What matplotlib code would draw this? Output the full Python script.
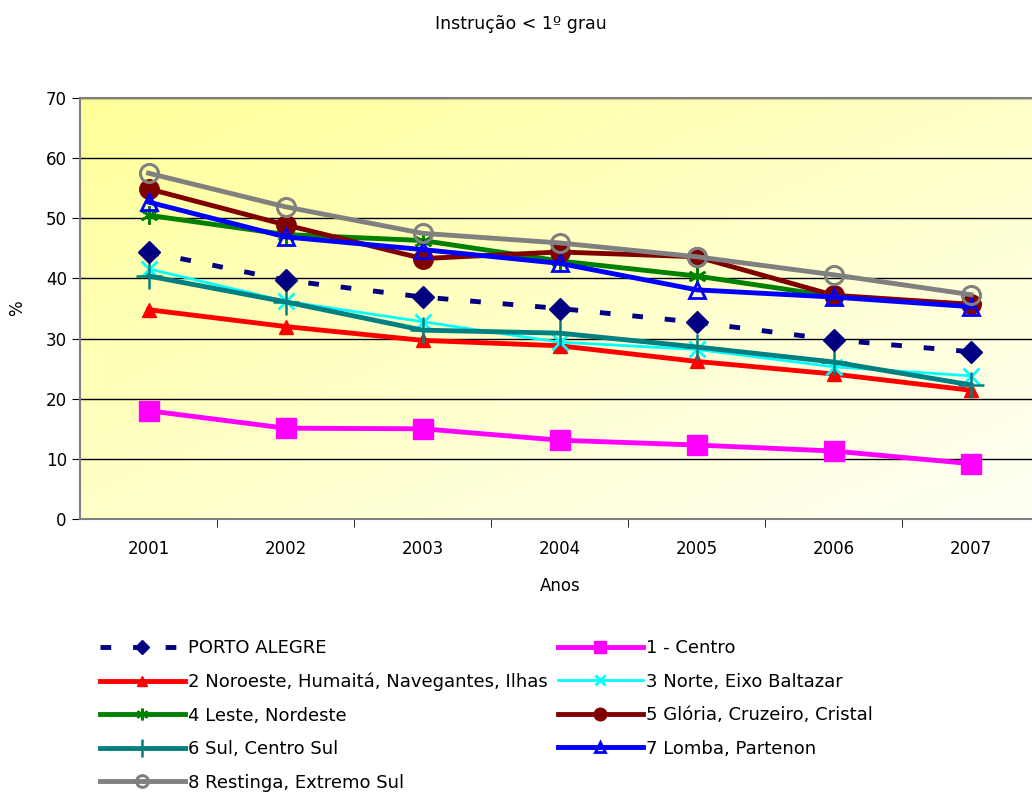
import numpy as np
import matplotlib
matplotlib.use('Agg')
import matplotlib.pyplot as plt
from matplotlib.colors import LinearSegmentedColormap

anos = ['2001', '2002', '2003', '2004', '2005', '2006', '2007']

porto_alegre = [44.4, 39.7, 36.9, 35.0, 32.7, 29.8, 27.8]
centro = [18.0, 15.1, 15.0, 13.1, 12.3, 11.3, 9.2]
noroeste = [34.8, 32.0, 29.7, 28.8, 26.2, 24.1, 21.4]
norte = [41.6, 36.2, 32.8, 29.4, 28.2, 25.3, 23.8]
leste = [50.5, 47.3, 46.3, 42.9, 40.4, 37.0, 35.6]
gloria = [54.9, 48.9, 43.3, 44.4, 43.6, 37.2, 35.7]
sul = [40.4, 36.1, 31.4, 30.9, 28.6, 26.1, 22.3]
lomba = [52.7, 46.9, 44.8, 42.5, 38.1, 36.9, 35.3]
restinga = [57.5, 51.9, 47.5, 45.9, 43.6, 40.6, 37.3]

plt.rcParams['font.family'] = ['DejaVu Sans']

fig = plt.figure(figsize=(10.32, 7.94), dpi=100)
ax = fig.add_axes([80 / 1032, 1 - 519 / 794, 959.5 / 1032, 421 / 794])

x = np.arange(1, len(anos) + 1)

# fundo em degradê: amarelo no canto superior esquerdo, branco no inferior direito
cmap = LinearSegmentedColormap.from_list('bg', [(0, '#ffff99'), (0.5, '#ffffc8'), (1, '#fffff6')])
gx, gy = np.meshgrid(np.linspace(0, 1, 200), np.linspace(0, 1, 200))
grad = (gx + gy) / 2
ax.imshow(grad, cmap=cmap, extent=[0.5, 7.5, 0, 70], origin='upper', aspect='auto', zorder=0)

ax.set_xlim(0.5, 7.5)
ax.set_ylim(0, 70)

for v in range(10, 71, 10):
    ax.axhline(v, color='black', linewidth=1.0, zorder=1)

series = [
    (porto_alegre, 'PORTO ALEGRE', dict(color='#000080', linestyle=(0, (2.2, 4.5)), linewidth=3.5, marker='D', markersize=11)),
    (noroeste, '2 Noroeste, Humaitá, Navegantes, Ilhas', dict(color='#ff0000', linewidth=3.5, marker='^', markersize=10)),
    (leste, '4 Leste, Nordeste', dict(color='#008000', linewidth=3.5, marker=(6, 2, 0), markersize=13, markeredgewidth=1.8)),
    (sul, '6 Sul, Centro Sul', dict(color='#008080', linewidth=3.5, marker='+', markersize=19, markeredgewidth=1.8)),
    (restinga, '8 Restinga, Extremo Sul', dict(color='#808080', linewidth=3.5, marker='o', markersize=13, markerfacecolor='none', markeredgewidth=2.2)),
    (centro, '1 - Centro', dict(color='#ff00ff', linewidth=3.5, marker='s', markersize=14)),
    (norte, '3 Norte, Eixo Baltazar', dict(color='#00ffff', linewidth=2, marker='x', markersize=12, markeredgewidth=2)),
    (gloria, '5 Glória, Cruzeiro, Cristal', dict(color='#800000', linewidth=3.5, marker='o', markersize=14)),
    (lomba, '7 Lomba, Partenon', dict(color='#0000ff', linewidth=3.5, marker='^', markersize=12, markerfacecolor='none', markeredgewidth=2)),
]

draw_order = [1, 5, 6, 3, 2, 7, 8, 4, 0]
lines = {}
for i in draw_order:
    vals, label, style = series[i]
    ln, = ax.plot(x, vals, label=label, zorder=3 + draw_order.index(i), **style)
    lines[i] = ln

ax.set_xticks(x)
ax.set_xticklabels(anos, fontsize=12)
ax.set_xticks(np.arange(1.5, 7.5, 1), minor=True)
ax.tick_params(axis='x', which='major', length=0, pad=15)
ax.tick_params(axis='x', which='minor', length=6, color='black')
ax.set_yticks(range(0, 71, 10))
ax.tick_params(axis='y', labelsize=12, length=6, color='black')

for side in ['left', 'bottom', 'top']:
    ax.spines[side].set_color('#808080')
    ax.spines[side].set_linewidth(1.5)
ax.spines['right'].set_visible(False)

ax.set_xlabel('Anos', fontsize=12, labelpad=14)
ax.set_ylabel('%', fontsize=12, labelpad=14)
fig.text(0.505, 1 - 24 / 794, 'Instrução < 1º grau', ha='center', va='center', fontsize=12.5)

leg_kw = dict(loc='upper left', frameon=False, fontsize=13, handlelength=4.7, markerscale=0.65,
              handletextpad=0.15, labelspacing=0.86, borderaxespad=0, borderpad=0)
leg1 = fig.legend(handles=[lines[i] for i in range(5)], bbox_to_anchor=(100 / 1032, 1 - 639 / 794), **leg_kw)
leg2 = fig.legend(handles=[lines[i] for i in range(5, 9)], bbox_to_anchor=(558 / 1032, 1 - 639 / 794), **leg_kw)

fig.savefig('out.png', dpi=100)
